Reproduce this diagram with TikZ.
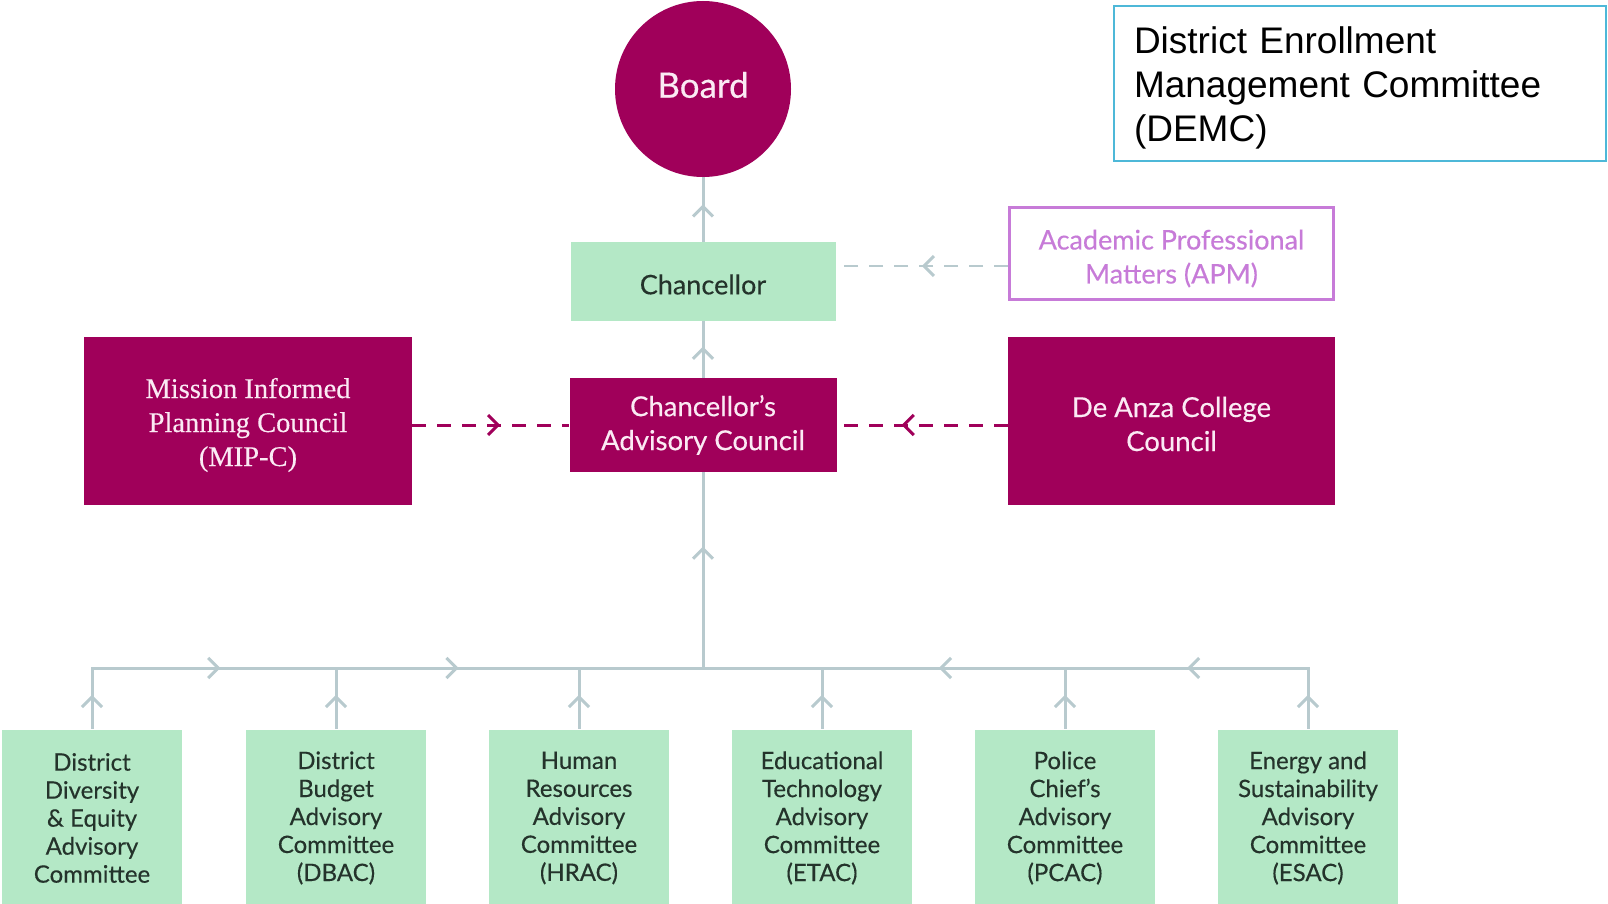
\documentclass[tikz,border=0pt]{standalone}
\usepackage{fontspec}
\setmainfont{Lato}[FakeBold=0.35]
\newfontfamily\mipfont{Liberation Serif}[FakeBold=0.2]
\newfontfamily\demcfont{Liberation Sans}
\usetikzlibrary{arrows.meta,decorations.markings}

\definecolor{crimson}{HTML}{A0005A}
\definecolor{mint}{HTML}{B4E8C6}
\definecolor{linegray}{HTML}{B8CACE}
\definecolor{apmviolet}{HTML}{C77BD8}
\definecolor{demcblue}{HTML}{4DB8D8}
\definecolor{paletext}{HTML}{FBEAF4}
\definecolor{darktext}{HTML}{24332B}

\tikzset{
  chev/.tip={Straight Barb[length=10pt,width=20pt,line width=3pt]},
  arrowat/.style={postaction={decorate},
    decoration={markings,mark=at position #1 with {\arrow{chev}}}},
  twoarrows/.style 2 args={postaction={decorate},
    decoration={markings,mark=at position #1 with {\arrow{chev}},
                         mark=at position #2 with {\arrow{chev}}}},
  conn/.style={draw=linegray, line width=3pt},
  crimdash/.style={draw=crimson, line width=3pt, dash pattern=on 14pt off 11pt},
  graydash/.style={draw=linegray, line width=2.5pt, dash pattern=on 14pt off 11pt},
  crimbox/.style={rectangle, fill=crimson, inner sep=0pt},
  mintbox/.style={rectangle, fill=mint, inner sep=0pt},
  committee/.style={mintbox, minimum width=180pt, minimum height=176pt,
    text=darktext, align=center, font=\fontsize{24}{28}\selectfont},
}

\begin{document}
\begin{tikzpicture}[x=1pt,y=-1pt]
\path[use as bounding box, fill=white] (0,0) rectangle (1608,904);

% top of the hierarchy
\node[circle, fill=crimson, minimum size=176pt, inner sep=0pt] (board) at (703,89) {};
\node[text=paletext, font=\fontsize{35}{40}\selectfont, inner sep=0pt]
  (boardtext) at ([yshift=4pt]board.center) {Board};

\node[mintbox, minimum width=265pt, minimum height=79pt] (chan) at (703,281.5) {};
\node[text=darktext, font=\fontsize{27}{32}\selectfont, inner sep=0pt]
  (chantext) at ([yshift=-3pt]chan.center) {Chancellor};

\node[crimbox, minimum width=267pt, minimum height=94pt] (cac) at (703,425) {};
\node[text=paletext, align=center, font=\fontsize{27.5}{34}\selectfont, inner sep=0pt]
  (cactext) at (cac.center) {Chancellor's\\Advisory Council};

% side councils
\node[crimbox, minimum width=328pt, minimum height=168pt] (mip) at (248,421) {};
\node[text=paletext, align=center, font=\mipfont\fontsize{28.5}{34}\selectfont, inner sep=0pt]
  (miptext) at ([yshift=-4pt]mip.center) {Mission Informed\\Planning Council\\(MIP-C)};

\node[crimbox, minimum width=327pt, minimum height=168pt] (danza) at (1171.5,421) {};
\node[text=paletext, align=center, font=\fontsize{27.5}{34}\selectfont, inner sep=0pt]
  (danzatext) at ([yshift=-3pt]danza.center) {De Anza College\\Council};

\node[rectangle, draw=apmviolet, line width=3pt, minimum width=324pt,
      minimum height=92pt, inner sep=0pt] (apm) at (1171.5,253.5) {};
\node[text=apmviolet, align=center, font=\fontsize{27}{34}\selectfont, inner sep=0pt]
  (apmtext) at ([yshift=-5pt]apm.center) {Academic Professional\\Matters (APM)};

% enrollment committee label box
\node[rectangle, draw=demcblue, line width=2pt, minimum width=492pt,
      minimum height=155pt, inner sep=0pt] (demc) at (1360,83.5) {};
\node[text=black, align=left, text width=452pt, inner sep=0pt,
      font=\demcfont\fontsize{37}{44}\selectfont]
  (demctext) at ([yshift=-4pt]demc.center) {District Enrollment\\Management Committee\\(DEMC)};

% advisory committees
\node[committee] (c1) at (92,818)   {District\\Diversity\\\& Equity\\Advisory\\Committee};
\node[committee] (c2) at (336,818)  {District\\Budget\\Advisory\\Committee\\(DBAC)};
\node[committee] (c3) at (579,818)  {Human\\Resources\\Advisory\\Committee\\(HRAC)};
\node[committee] (c4) at (822,818)  {Educational\\Technology\\Advisory\\Committee\\(ETAC)};
\node[committee] (c5) at (1065,818) {Police\\Chief's\\Advisory\\Committee\\(PCAC)};
\node[committee] (c6) at (1308,818) {Energy and\\Sustainability\\Advisory\\Committee\\(ESAC)};

% reporting lines
\draw[conn, arrowat=0.58] (chan.north) -- (board.south);
\draw[conn, arrowat=0.55] (cac.north) -- (chan.south);
\coordinate (J) at (703,668);
\draw[conn, arrowat=0.62] (J) -- (cac.south);
\foreach \c in {c1,c2,c3,c4,c5,c6}
  \draw[conn, arrowat=0.55, line cap=rect] ([yshift=2pt]\c.north) -- (\c.north |- J);
\draw[conn, twoarrows={0.21}{0.6}] (c1.north |- J) -- (J);
\draw[conn, twoarrows={0.2}{0.61}] (c6.north |- J) -- (J);

% consultative links
\draw[graydash, arrowat=0.5] ([yshift=-12.5pt]apm.west) -- ([yshift=-12.5pt]apm.west -| chan.east);
\draw[crimdash, arrowat=0.56] (mip.east |- cac.west) -- (cac.west);
\draw[crimdash, arrowat=0.62] (danza.west |- cac.east) -- (cac.east);
\end{tikzpicture}
\end{document}
